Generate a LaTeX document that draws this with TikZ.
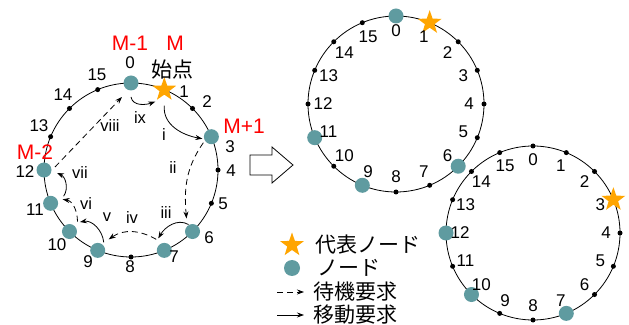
\documentclass[tikz,border=0pt]{standalone}
\usepackage{fontspec}
\setmainfont{Liberation Sans}
\newfontfamily\jp{Noto Sans CJK JP}
\usetikzlibrary{shapes.geometric,arrows.meta,calc}
\definecolor{nodeteal}{RGB}{95,155,160}
\definecolor{starorange}{RGB}{255,165,0}
\definecolor{labred}{RGB}{255,0,0}
\begin{document}
\begin{tikzpicture}[x=1pt,y=1pt,
 ring/.style={line width=0.8pt},
 tealnode/.style={circle,fill=nodeteal,minimum size=15pt,inner sep=0pt},
 dotnode/.style={circle,fill=black,minimum size=5pt,inner sep=0pt},
 starnode/.style={star,star points=5,star point ratio=2.5,fill=starorange,minimum size=25pt,inner sep=0pt},
 numlab/.style={font=\fontsize{17}{19}\selectfont,inner sep=0pt},
 redlab/.style={font=\fontsize{21}{23}\selectfont,text=labred,inner sep=0pt},
 jplab/.style={font=\jp\fontsize{21}{23}\selectfont,inner sep=0pt},
 roman/.style={font=\fontsize{16.5}{18}\selectfont,inner sep=0pt},
 move/.style={line width=0.8pt,-{Stealth[length=7pt,width=5pt]}},
 wait/.style={line width=0.8pt,dash pattern=on 6pt off 4pt,-{Stealth[length=7pt,width=5pt]}},
]
\useasboundingbox (0,0) rectangle (629,324);

% ---------- rings ----------
\draw[ring] (131,154) circle (87pt);
\draw[ring] (396,220) circle (88pt);
\draw[ring] (533,91) circle (87pt);

% ---------- left ring nodes ----------
\foreach \k/\s in {0/tealnode,2/dotnode,3/tealnode,4/dotnode,5/dotnode,6/tealnode,7/tealnode,8/dotnode,9/tealnode,10/tealnode,11/tealnode,12/tealnode,13/dotnode,14/dotnode,15/dotnode}
  \node[\s] (L\k) at ([shift={({90-22.5*\k}:87)}]131,154) {};
\node[starnode] (L1) at ([shift={(67.5:87)}]131,154) {};

% left ring labels
\node[numlab] (ln0) at (130,261) {0};
\node[numlab] (ln1) at (184,232) {1};
\node[numlab] (ln2) at (207,222) {2};
\node[numlab] (ln3) at (230,177) {3};
\node[numlab] (ln4) at (231,153) {4};
\node[numlab] (ln5) at (223,120) {5};
\node[numlab] (ln6) at (209,86) {6};
\node[numlab] (ln7) at (174,67) {7};
\node[numlab] (ln8) at (130,57) {8};
\node[numlab] (ln9) at (88,62) {9};
\node[numlab] (ln10) at (57,79) {10};
\node[numlab] (ln11) at (35,114) {11};
\node[numlab] (ln12) at (25,152) {12};
\node[numlab] (ln13) at (39,198) {13};
\node[numlab] (ln14) at (63,229) {14};
\node[numlab] (ln15) at (97,249) {15};

\node[redlab] (rm1) at (130,281) {M-1};
\node[redlab] (rm) at (175,281) {M};
\node[jplab] (start) at (172,254) {始点};
\node[redlab] (rmp1) at (244,198) {M+1};
\node[redlab] (rm2) at (35,172) {M-2};

% ---------- left ring requests ----------
\draw[move] ([shift={(0,-14)}]L0.center) to[out=-80,in=200] ([shift={(-9,-12)}]L1.center);
\node[roman] (tix) at (140,206) {ix};
\draw[move] ([shift={(0,-16)}]L1.center) to[out=-95,in=170] ([shift={(-9,-2)}]L3.center);
\node[roman] (ti) at (164,189) {i};
\draw[wait] ([shift={(-8,-6)}]L3.center) to[out=-125,in=95] ([shift={(-6,13)}]L6.center);
\node[roman] (tii) at (173,156) {ii};
\draw[move] ([shift={(-4,7)}]L6.center) to[out=150,in=60] ([shift={(-6,12)}]L7.center);
\node[roman] (tiii) at (166,111) {iii};
\draw[wait] ([shift={(-8,11)}]L7.center) to[out=150,in=35] ([shift={(11,11)}]L9.center);
\node[roman] (tiv) at (132,106) {iv};
\draw[move] ([shift={(6,8)}]L9.center) to[out=95,in=10] ([shift={(10.5,9.5)}]L10.center);
\node[roman] (tv) at (107,107) {v};
\draw[wait] ([shift={(8,10)}]L10.center) to[out=90,in=-10] ([shift={(12,4)}]L11.center);
\node[roman] (tvi) at (86,120) {vi};
\draw[move] ([shift={(13,7)}]L11.center) to[bend right=50] ([shift={(13,-3)}]L12.center);
\node[roman] (tvii) at (80,151) {vii};
\draw[wait] ([shift={(11,3)}]L12.center) -- ([shift={(-9,-14)}]L0.center);
\node[roman] (tviii) at (110,198) {viii};

% ---------- hollow arrow ----------
\draw[line width=0.8pt,fill=white] (250,149) -- (272,149) -- (272,141) -- (293,159) -- (272,177) -- (272,169) -- (250,169) -- cycle;

% ---------- top right ring ----------
\foreach \k/\s in {0/tealnode,2/dotnode,3/dotnode,4/dotnode,5/dotnode,6/tealnode,7/dotnode,8/dotnode,9/tealnode,10/dotnode,11/tealnode,12/dotnode,13/dotnode,14/dotnode,15/dotnode}
  \node[\s] (T\k) at ([shift={({90-22.5*\k}:88)}]396,220) {};
\node[starnode] (T1) at ([shift={(67.5:88)}]396,220) {};
\foreach \k in {0,...,15}
  \node[numlab] (tn\k) at ([shift={({90-22.5*\k}:73)}]396,220) {\k};

% ---------- bottom right ring ----------
\foreach \k/\s in {0/dotnode,1/dotnode,2/dotnode,4/dotnode,5/dotnode,6/dotnode,7/tealnode,8/dotnode,9/dotnode,10/tealnode,11/dotnode,12/tealnode,13/dotnode,14/dotnode,15/dotnode}
  \node[\s] (B\k) at ([shift={({90-22.5*\k}:87)}]533,91) {};
\node[starnode] (B3) at ([shift={(22.5:87)}]533,91) {};
\foreach \k in {0,...,15}
  \node[numlab] (bn\k) at ([shift={({90-22.5*\k}:73)}]533,91) {\k};

% ---------- legend ----------
\node[starnode] (lgstar) at (292,79) {};
\node[jplab,anchor=west] (lgstartxt) at (315,79) {代表ノード};
\node[tealnode,minimum size=16pt] (lgnode) at (292,56) {};
\node[jplab,anchor=west] (lgnodetxt) at (317,56) {ノード};
\coordinate (lwa) at (277,32);
\coordinate (lwb) at (304,32);
\draw[wait] (lwa) -- (lwb);
\node[jplab,anchor=west] (lgwait) at (313,32) {待機要求};
\coordinate (lma) at (277,9);
\coordinate (lmb) at (304,9);
\draw[move] (lma) -- (lmb);
\node[jplab,anchor=west] (lgmove) at (313,9) {移動要求};
\end{tikzpicture}
\end{document}
